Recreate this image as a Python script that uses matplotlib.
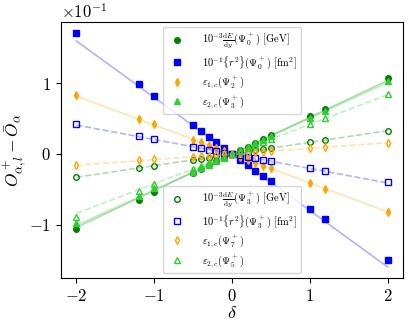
import numpy as np
import matplotlib
matplotlib.use("Agg")
import matplotlib.pyplot as plt

plt.rcParams['mathtext.fontset'] = 'cm'
plt.rcParams['font.family'] = 'serif'
plt.rcParams['font.serif'] = ['cmr10']
plt.rcParams['axes.formatter.use_mathtext'] = True

# deformation parameter
delta = [-2, -1.2, -1, -0.5, -0.4, -0.3, -0.2, -0.1, 0, 0.1, 0.2, 0.3, 0.4, 0.5, 1, 1.2, 2]

# O^+_{alpha,l} - O_bar_alpha, in units of 1e-1 (filled = first legend, open = second)
dEdy_0 = [-1.065, -0.645, -0.54, -0.265, -0.21, -0.16, -0.105, -0.055, 0, 0.055, 0.105, 0.16, 0.215, 0.27, 0.54, 0.64, 1.08]
r2_0 = [1.706, 0.99, 0.82, 0.41, 0.325, 0.245, 0.165, 0.085, 0, -0.08, -0.16, -0.235, -0.31, -0.385, -0.775, -0.925, -1.50]
e1c_2 = [0.83, 0.50, 0.42, 0.205, 0.165, 0.125, 0.082, 0.041, 0, -0.041, -0.082, -0.123, -0.165, -0.205, -0.41, -0.49, -0.825]
e2c_3 = [-0.97, -0.60, -0.48, -0.25, -0.20, -0.15, -0.10, -0.05, 0, 0.05, 0.10, 0.155, 0.205, 0.255, 0.51, 0.615, 1.03]

dEdy_3 = [-0.33, -0.196, -0.163, -0.083, -0.066, -0.05, -0.033, -0.017, 0, 0.017, 0.034, 0.05, 0.068, 0.085, 0.173, 0.205, 0.33]
r2_3 = [0.42, 0.25, 0.213, 0.105, 0.084, 0.063, 0.042, 0.021, 0, -0.021, -0.041, -0.062, -0.082, -0.103, -0.20, -0.24, -0.40]
e1c_7 = [-0.155, -0.09, -0.072, -0.037, -0.03, -0.022, -0.015, -0.007, 0, 0.008, 0.016, 0.024, 0.032, 0.04, 0.087, 0.10, 0.16]
e2c_5 = [-0.89, -0.53, -0.43, -0.215, -0.172, -0.129, -0.086, -0.043, 0, 0.043, 0.086, 0.129, 0.172, 0.215, 0.43, 0.51, 0.85]

# linear-response slopes (same units)
slopes_filled = [0.52, -0.80, -0.41, 0.505]
slopes_open = [0.165, -0.205, 0.08, 0.42]

labels_filled = [r'$10^{-3}\frac{\mathrm{d}E}{\mathrm{d}y}(\Psi_0^+)$ [GeV]',
                 r'$10^{-1}\{r^2\}(\Psi_0^+)$ [fm$^2$]',
                 r'$\varepsilon_{1,c}(\Psi_2^+)$',
                 r'$\varepsilon_{2,c}(\Psi_3^+)$']
labels_open = [r'$10^{-3}\frac{\mathrm{d}E}{\mathrm{d}y}(\Psi_3^+)$ [GeV]',
               r'$10^{-1}\{r^2\}(\Psi_3^+)$ [fm$^2$]',
               r'$\varepsilon_{1,c}(\Psi_7^+)$',
               r'$\varepsilon_{2,c}(\Psi_5^+)$']

colors = ['green', 'blue', 'orange', 'limegreen']
markers = ['o', 's', 'd', '^']
scale = 1e-1

fig = plt.figure(figsize=(4.11, 3.27), dpi=100)
ax = fig.add_axes([0.148, 0.150, 0.833, 0.783])

d = np.array(delta)
dline = np.array([delta[0], delta[-1]])

h_filled = []
for vals, k, c, m, lab in zip([dEdy_0, r2_0, e1c_2, e2c_3], slopes_filled, colors, markers, labels_filled):
    ax.plot(dline, k * dline * scale, '-', color=c, alpha=0.3, lw=1.2)
    h, = ax.plot(d, np.array(vals) * scale, m, color=c, ms=4, ls='none', label=lab)
    h_filled.append(h)

h_open = []
for vals, k, c, m, lab in zip([dEdy_3, r2_3, e1c_7, e2c_5], slopes_open, colors, markers, labels_open):
    ax.plot(dline, k * dline * scale, '--', color=c, alpha=0.3, lw=1.2)
    h, = ax.plot(d, np.array(vals) * scale, m, color=c, mfc='none', ms=4, mew=1.0, ls='none', label=lab)
    h_open.append(h)

ax.set_xlim(-2.2, 2.2)
ax.set_ylim(-1.755 * scale, 1.87 * scale)
ax.set_xticks([-2, -1, 0, 1, 2])
ax.set_yticks([-0.1, 0, 0.1])
ax.ticklabel_format(axis='y', style='sci', scilimits=(0, 0))
ax.tick_params(labelsize=12)
ax.yaxis.get_offset_text().set_fontsize(12)

ax.set_xlabel(r'$\delta$', fontsize=13, labelpad=1)
ax.set_ylabel(r'$O^+_{\alpha,l}-\bar{O}_\alpha$', fontsize=12.5)
ax.yaxis.set_label_coords(-0.095, 0.5)

leg_kw = dict(fontsize=7.5, handletextpad=1.4, labelspacing=0.25, borderpad=0.4)
leg1 = ax.legend(handles=h_filled, loc='upper center', **leg_kw)
ax.add_artist(leg1)
ax.legend(handles=h_open, loc='lower center', **leg_kw)

fig.savefig('out.png', dpi=100)
